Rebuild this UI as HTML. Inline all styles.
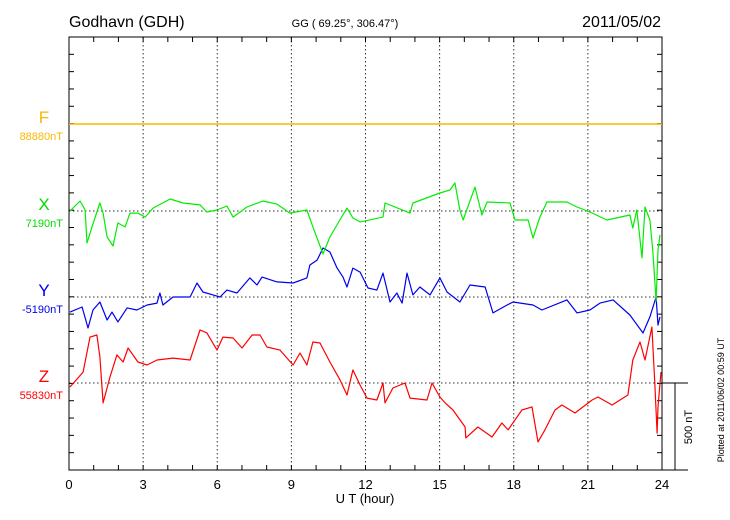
<!DOCTYPE html>
<html><head><meta charset="utf-8"><style>
body{margin:0;background:#fff;}
svg{display:block;font-family:"Liberation Sans",sans-serif;}
</style></head><body>
<svg id="chart" width="730" height="520" viewBox="0 0 730 520"></svg>
<script>
const hours=[0,3,6,9,12,15,18,21,24];
const fValues=[[0,0],[24,0]];
const xTimes=[0.04,0.45,0.65,0.73,0.93,1.25,1.38,1.54,1.78,1.98,2.27,2.47,2.79,3.08,3.40,4.09,4.61,5.30,5.58,5.99,6.39,6.64,7.20,7.85,8.42,8.94,9.63,9.87,10.28,10.56,10.89,11.25,11.49,11.78,12.71,12.79,13.80,13.92,15.01,15.42,15.62,15.82,15.95,16.43,16.71,16.92,17.85,18.05,18.58,18.78,19.06,19.34,20.15,20.56,21.08,21.77,22.70,22.82,22.98,23.19,23.31,23.51,23.63,23.76,23.84,23.92];
const xValues=[0,58,6,-185,-92,46,-12,-150,-202,-69,-92,-12,-12,-35,17,69,46,35,-6,6,29,-35,23,58,40,-12,6,-92,-248,-150,-69,17,-40,-63,-35,46,-12,46,104,121,162,6,-52,138,-23,52,46,-52,-52,-156,-35,52,52,23,-6,-52,-23,-98,6,-271,23,-52,-237,-520,-225,-138];
const yTimes=[0.04,0.53,0.77,0.97,1.25,1.54,1.74,1.98,2.35,2.75,3.16,3.56,3.68,3.80,4.21,4.90,5.18,5.42,5.83,6.11,6.39,6.80,7.32,7.61,7.81,8.42,9.07,9.63,9.75,10.04,10.28,10.56,10.85,11.09,11.25,11.49,11.78,12.10,12.46,12.71,12.99,13.27,13.48,13.68,13.92,14.20,14.61,15.01,15.30,15.82,16.23,16.84,17.16,17.73,17.97,18.78,19.14,20.15,20.56,21.08,21.49,22.02,22.70,23.23,23.51,23.76,23.84,23.92];
const yValues=[-87,-58,-179,-75,-29,-133,-87,-144,-63,-75,-46,-35,23,-46,0,0,81,29,12,0,40,23,110,69,115,87,81,110,185,213,283,260,167,115,58,167,144,52,40,138,-29,23,-35,138,12,58,12,110,29,-29,69,58,-92,-46,-29,-46,-75,-17,-92,-75,-35,-17,-104,-208,-115,0,-162,-115];
const zTimes=[0.04,0.57,0.85,1.13,1.25,1.38,1.66,1.94,2.19,2.39,2.79,3.16,3.56,4.21,4.90,5.30,5.58,5.99,6.23,6.64,7.00,7.41,7.73,8.01,8.54,9.07,9.35,9.63,9.87,10.16,10.56,10.97,11.25,11.49,11.78,12.06,12.46,12.71,12.79,13.11,13.60,13.80,14.49,14.69,15.01,15.22,15.54,16.03,16.06,16.55,17.12,17.52,17.77,18.33,18.74,18.98,19.26,19.67,19.95,20.48,21.17,21.41,21.98,22.62,22.82,23.11,23.31,23.59,23.71,23.80,23.84,23.96];
const zValues=[-23,63,265,277,150,-115,35,162,121,202,121,104,133,144,133,306,289,190,265,260,202,277,277,208,190,104,173,104,237,231,121,17,-69,75,-12,-87,-98,0,-115,-29,0,-87,-98,0,-81,-115,-156,-254,-317,-254,-312,-231,-271,-156,-138,-340,-271,-156,-127,-173,-98,-81,-127,-69,133,237,133,323,0,-289,-138,63];

const svg=document.getElementById('chart');
const NS='http://www.w3.org/2000/svg';
const L=69,R=662,T=37,B=470;
const pxPerNT=86.6/500;
function sx(h){return L+(R-L)*h/24;}
function sy(base,v){return base-v*pxPerNT;}
function mk(tag,attrs,name,parent){const e=document.createElementNS(NS,tag);for(const k in attrs)e.setAttribute(k,attrs[k]);


(parent||svg).appendChild(e);return e;}
function txt(x,y,s,size,fill,anchor,name,extra){const t=mk('text',Object.assign({x:x,y:y,'font-size':size,fill:fill,'text-anchor':anchor||'start'},extra||{}),name);t.textContent=s;return t;}

// grid
const bases={F:124,X:211,Y:297,Z:383};
for(const h of hours.slice(1,-1)){mk('line',{x1:sx(h),x2:sx(h),y1:T,y2:B,stroke:'#333','stroke-width':1,'stroke-dasharray':'1.5,2.5'},'grid-vertical-'+h);}
for(const k of ['F','X','Y','Z']){mk('line',{x1:L,x2:R,y1:bases[k],y2:bases[k],stroke:'#333','stroke-width':1,'stroke-dasharray':'1.5,2.5'},'grid-baseline-'+k);}
// ticks
for(let h=0;h<=24;h++){mk('line',{x1:sx(h),x2:sx(h),y1:B,y2:B-5,stroke:'#000'},'x-tick-bottom');mk('line',{x1:sx(h),x2:sx(h),y1:T,y2:T+5,stroke:'#000'},'x-tick-top');}
for(let y=B;y>=T-1;y-=17.32){mk('line',{x1:L,x2:L+5,y1:y,y2:y,stroke:'#000'},'y-tick-left');mk('line',{x1:R,x2:R-5,y1:y,y2:y,stroke:'#000'},'y-tick-right');}
mk('rect',{x:L,y:T,width:R-L,height:B-T,fill:'none',stroke:'#000','stroke-width':1},'plot-frame');
// series
function series(times,vals,base,color,name,w){let d='';for(let i=0;i<times.length;i++){d+=(i?'L':'M')+sx(times[i]).toFixed(1)+','+sy(base,vals[i]).toFixed(1);}
mk('path',{d:d,fill:'none',stroke:color,'stroke-width':w||1.2,'stroke-linejoin':'round'},name);}
series(fValues.map(p=>p[0]),fValues.map(p=>p[1]),bases.F,'#f8b800','series-f',1.5);
series(zTimes,zValues,bases.Z,'#ff0000','series-z');
series(yTimes,yValues,bases.Y,'#0000ee','series-y');
series(xTimes,xValues,bases.X,'#00ee00','series-x');
// scale bar
mk('line',{x1:R,x2:688,y1:383,y2:383,stroke:'#000'},'scale-bar-top');
mk('line',{x1:R,x2:688,y1:B,y2:B,stroke:'#000'},'scale-bar-bottom');
mk('line',{x1:675,x2:675,y1:383,y2:B,stroke:'#000'},'scale-bar-vertical');
txt(692,427,'500 nT',11,'#000','middle','scale-bar-label',{transform:'rotate(-90 692 427)'});
// labels
txt(69,27,'Godhavn (GDH)',16,'#000','start','station-title');
txt(345,27,'GG ( 69.25°, 306.47°)',11,'#000','middle','coordinates-label');
txt(661,27,'2011/05/02',16,'#000','end','date-label');
const comp=[['F','88880nT','#f8b800'],['X','7190nT','#00dd00'],['Y','-5190nT','#0000ee'],['Z','55830nT','#ff0000']];
for(const c of comp){const b=bases[c[0]];txt(44,b-1,c[0],17,c[2],'middle','component-letter-'+c[0].toLowerCase());txt(63,b+16,c[1],11,c[2],'end','component-baseline-'+c[0].toLowerCase());}
for(const h of hours){txt(sx(h),489,String(h),13,'#000','middle','x-tick-label-'+h);}
txt(365,503,'U T (hour)',13,'#000','middle','x-axis-title');
txt(724,400,'Plotted at 2011/06/02 00:59 UT',9,'#000','middle','plotted-timestamp',{transform:'rotate(-90 724 400)'});
</script>
</body></html>
